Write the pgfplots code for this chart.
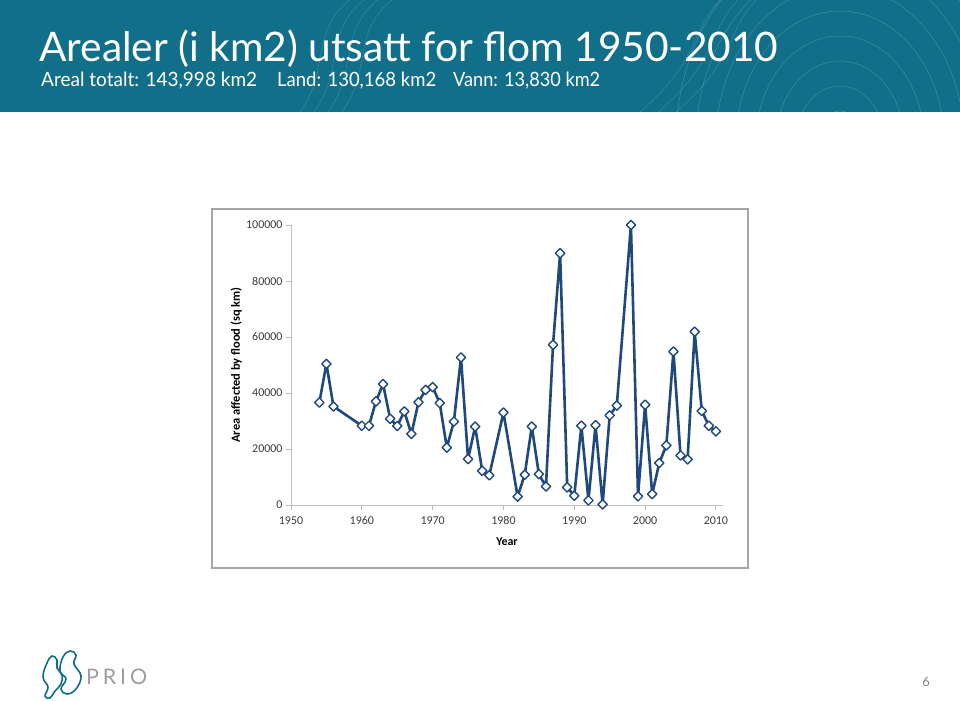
\documentclass[border=0pt]{standalone}
\usepackage{pgfplots}
\pgfplotsset{compat=1.18}
\usepackage{fontspec}
\setmainfont{Lato}
\newfontfamily\chartfont{Carlito}
\definecolor{hdr}{RGB}{17,111,138}
\definecolor{serieblue}{RGB}{31,73,125}
\definecolor{ticktext}{RGB}{60,60,60}
\begin{document}
\begin{tikzpicture}[x=1bp,y=1bp]
\fill[white] (0,0) rectangle (960,701);
\fill[hdr] (0,589) rectangle (960,701);
\begin{scope}
\clip (0,589) rectangle (960,701);
\foreach \r in {30,55,80,105,130,155,180,205}
  \draw[white, opacity=0.18, line width=0.6bp] (840,560) ellipse [x radius=\r*0.8, y radius=\r];
\foreach \s in {0,14,28,42}
  \draw[white, opacity=0.15, line width=0.6bp] (300+\s,589) .. controls (330+\s,630) and (310+\s,670) .. (350+\s,701);
\foreach \s in {0,18,36}
  \draw[white, opacity=0.15, line width=0.6bp] (640+\s,589) .. controls (700+\s,640) and (690+\s,670) .. (720+\s,701);
\end{scope}
\node[anchor=base west, inner sep=0, text=white] at (39,639) {\resizebox{739bp}{!}{Arealer (i km2) utsatt for flom 1950-2010}};
\node[anchor=base west, inner sep=0, text=white] at (41,614) {\resizebox{216bp}{14.5bp}{Areal totalt: 143,998 km2}};
\node[anchor=base west, inner sep=0, text=white] at (277,614) {\resizebox{159bp}{14.5bp}{Land: 130,168 km2}};
\node[anchor=base west, inner sep=0, text=white] at (453,614) {\resizebox{147bp}{14.5bp}{Vann: 13,830 km2}};
% chart frame
\draw[black!35, line width=1.5bp] (212,133) rectangle (748,492);
\begin{axis}[
  at={(291bp,196bp)}, anchor=south west,
  scale only axis, width=432bp, height=280bp,
  xmin=1950, xmax=2011, ymin=0, ymax=100000,
  clip=false,
  axis x line*=bottom, axis y line*=left,
  axis line style={draw=black!25, line width=0.9bp},
  tick style={draw=black!25, line width=0.9bp},
  major tick length=5bp, tick align=outside,
  xtick={1950,1960,...,2010}, ytick={0,20000,40000,60000,80000,100000},
  scaled y ticks=false, scaled x ticks=false,
  /pgf/number format/.cd, fixed, precision=0, 1000 sep={}, assume math mode=true, /pgfplots/.cd,
  tick label style={font=\chartfont\fontsize{12}{12}\selectfont, text=ticktext},
  xticklabel style={yshift=-3bp},
  xlabel={Year}, ylabel={Area affected by flood (sq km)},
  xlabel style={at={(axis description cs:0.5,-0.1464)}, anchor=base, font=\chartfont\bfseries\fontsize{12}{12}\selectfont},
  ylabel style={at={(axis description cs:-0.127,0.5)}, anchor=center, font=\chartfont\bfseries\fontsize{12.5}{12.5}\selectfont},
]
\addplot[color=serieblue, line width=2.6bp, line join=round, mark=square*, mark size=3.3bp,
  mark options={fill=white, draw=serieblue, rotate=45, line width=1.4bp, solid}] coordinates {
(1954,36600) (1955,50400) (1956,35200) (1960,28300) (1961,28300) (1962,37000)
(1963,43200) (1964,30800) (1965,28200) (1966,33400) (1967,25400) (1968,36700)
(1969,41100) (1970,42100) (1971,36400) (1972,20500) (1973,29800) (1974,52700)
(1975,16400) (1976,28000) (1977,12200) (1978,10600) (1980,33000) (1982,3000)
(1983,10800) (1984,28000) (1985,11000) (1986,6600) (1987,57200) (1988,89900)
(1989,6300) (1990,3300) (1991,28300) (1992,1650) (1993,28500) (1994,200)
(1995,32000) (1996,35500) (1998,100000) (1999,3100) (2000,35800) (2001,3900)
(2002,15000) (2003,21300) (2004,54800) (2005,17700) (2006,16300) (2007,61900)
(2008,33600) (2009,28300) (2010,26300)
};
\end{axis}
% footer logo
\draw[hdr, line width=1.6bp] plot[smooth cycle, tension=0.7] coordinates {(47,38) (52,45) (57,41) (57,33) (62,26) (61,17) (55,10) (50,3) (45,5) (48,14) (43,24)};
\draw[hdr, line width=1.6bp] plot[smooth cycle, tension=0.7] coordinates {(60,30) (63,44) (70,50) (76,46) (74,37) (81,25) (76,12) (67,7) (61,12) (66,22)};
\node[anchor=base west, inner sep=0, text=black!38] at (86,16) {\resizebox{61bp}{!}{\addfontfeature{LetterSpace=18}PRIO}};
\node[anchor=base, inner sep=0, text=black!50] at (926,14) {\fontsize{13}{13}\selectfont 6};
\end{tikzpicture}
\end{document}
